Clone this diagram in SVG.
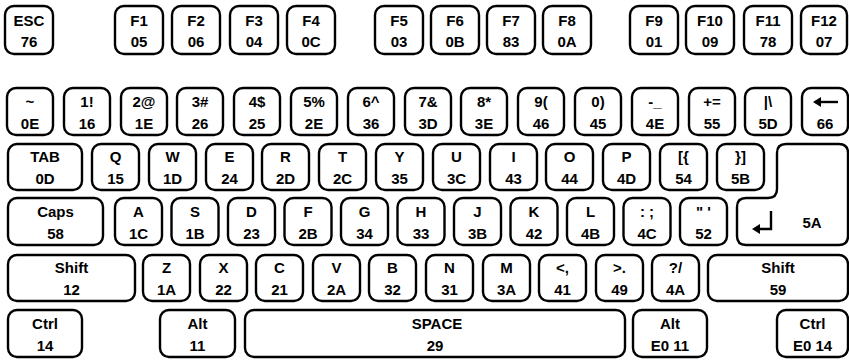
<svg xmlns="http://www.w3.org/2000/svg" width="849" height="361" viewBox="0 0 849 361">
<style>
.k{fill:#fff;stroke:#000;stroke-width:2.4}
text{font-family:"Liberation Sans",Arial,sans-serif;font-size:15px;font-weight:bold;text-anchor:middle;fill:#000}
.sym{fill:none;stroke:#000;stroke-width:2.4}
</style>
<rect width="849" height="361" fill="#fff"/>
<g id="row1">
<g id="k-esc"><rect class="k" x="5" y="6" width="48" height="48" rx="9"/><text x="29" y="26">ESC</text><text x="29" y="47">76</text></g>
<g id="k-f1"><rect class="k" x="115" y="6" width="48" height="48" rx="9"/><text x="139" y="26">F1</text><text x="139" y="47">05</text></g>
<g id="k-f2"><rect class="k" x="172" y="6" width="48" height="48" rx="9"/><text x="196" y="26">F2</text><text x="196" y="47">06</text></g>
<g id="k-f3"><rect class="k" x="230" y="6" width="48" height="48" rx="9"/><text x="254" y="26">F3</text><text x="254" y="47">04</text></g>
<g id="k-f4"><rect class="k" x="287" y="6" width="48" height="48" rx="9"/><text x="311" y="26">F4</text><text x="311" y="47">0C</text></g>
<g id="k-f5"><rect class="k" x="375" y="6" width="48" height="48" rx="9"/><text x="399" y="26">F5</text><text x="399" y="47">03</text></g>
<g id="k-f6"><rect class="k" x="431" y="6" width="48" height="48" rx="9"/><text x="455" y="26">F6</text><text x="455" y="47">0B</text></g>
<g id="k-f7"><rect class="k" x="487" y="6" width="48" height="48" rx="9"/><text x="511" y="26">F7</text><text x="511" y="47">83</text></g>
<g id="k-f8"><rect class="k" x="543" y="6" width="48" height="48" rx="9"/><text x="567" y="26">F8</text><text x="567" y="47">0A</text></g>
<g id="k-f9"><rect class="k" x="630" y="6" width="48" height="48" rx="9"/><text x="654" y="26">F9</text><text x="654" y="47">01</text></g>
<g id="k-f10"><rect class="k" x="686" y="6" width="48" height="48" rx="9"/><text x="710" y="26">F10</text><text x="710" y="47">09</text></g>
<g id="k-f11"><rect class="k" x="744" y="6" width="48" height="48" rx="9"/><text x="768" y="26">F11</text><text x="768" y="47">78</text></g>
<g id="k-f12"><rect class="k" x="801" y="6" width="46" height="48" rx="9"/><text x="824" y="26">F12</text><text x="824" y="47">07</text></g>
</g>
<g id="row2">
<g id="k-tilde"><rect class="k" x="7" y="88" width="46" height="47" rx="9"/><text x="30" y="107">~</text><text x="30" y="129">0E</text></g>
<g id="k-1"><rect class="k" x="64" y="88" width="46" height="47" rx="9"/><text x="87" y="107">1!</text><text x="87" y="129">16</text></g>
<g id="k-2"><rect class="k" x="121" y="88" width="46" height="47" rx="9"/><text x="144" y="107">2@</text><text x="144" y="129">1E</text></g>
<g id="k-3"><rect class="k" x="177" y="88" width="46" height="47" rx="9"/><text x="200" y="107">3#</text><text x="200" y="129">26</text></g>
<g id="k-4"><rect class="k" x="234" y="88" width="46" height="47" rx="9"/><text x="257" y="107">4$</text><text x="257" y="129">25</text></g>
<g id="k-5"><rect class="k" x="291" y="88" width="46" height="47" rx="9"/><text x="314" y="107">5%</text><text x="314" y="129">2E</text></g>
<g id="k-6"><rect class="k" x="348" y="88" width="46" height="47" rx="9"/><text x="371" y="107">6^</text><text x="371" y="129">36</text></g>
<g id="k-7"><rect class="k" x="405" y="88" width="46" height="47" rx="9"/><text x="428" y="107">7&amp;</text><text x="428" y="129">3D</text></g>
<g id="k-8"><rect class="k" x="461" y="88" width="46" height="47" rx="9"/><text x="484" y="107">8*</text><text x="484" y="129">3E</text></g>
<g id="k-9"><rect class="k" x="518" y="88" width="46" height="47" rx="9"/><text x="541" y="107">9(</text><text x="541" y="129">46</text></g>
<g id="k-0"><rect class="k" x="575" y="88" width="46" height="47" rx="9"/><text x="598" y="107">0)</text><text x="598" y="129">45</text></g>
<g id="k-minus"><rect class="k" x="632" y="88" width="46" height="47" rx="9"/><text x="655" y="107">-_</text><text x="655" y="129">4E</text></g>
<g id="k-equal"><rect class="k" x="689" y="88" width="46" height="47" rx="9"/><text x="712" y="107">+=</text><text x="712" y="129">55</text></g>
<g id="k-bslash"><rect class="k" x="745" y="88" width="46" height="47" rx="9"/><text x="768" y="107">|\</text><text x="768" y="129">5D</text></g>
<g id="k-bksp"><rect class="k" x="802" y="88" width="46" height="47" rx="9"/><path class="sym" d="M815,102 H838"/><path d="M813,102 L821,97 L821,107 Z"/><text x="825" y="129">66</text></g>
</g>
<g id="row3">
<g id="k-tab"><rect class="k" x="8" y="144" width="74" height="46" rx="9"/><text x="45" y="162">TAB</text><text x="45" y="184">0D</text></g>
<g id="k-q"><rect class="k" x="92" y="144" width="47" height="46" rx="9"/><text x="115.5" y="162">Q</text><text x="115.5" y="184">15</text></g>
<g id="k-w"><rect class="k" x="149" y="144" width="47" height="46" rx="9"/><text x="172.5" y="162">W</text><text x="172.5" y="184">1D</text></g>
<g id="k-e"><rect class="k" x="206" y="144" width="47" height="46" rx="9"/><text x="229.5" y="162">E</text><text x="229.5" y="184">24</text></g>
<g id="k-r"><rect class="k" x="262" y="144" width="47" height="46" rx="9"/><text x="285.5" y="162">R</text><text x="285.5" y="184">2D</text></g>
<g id="k-t"><rect class="k" x="319" y="144" width="47" height="46" rx="9"/><text x="342.5" y="162">T</text><text x="342.5" y="184">2C</text></g>
<g id="k-y"><rect class="k" x="376" y="144" width="47" height="46" rx="9"/><text x="399.5" y="162">Y</text><text x="399.5" y="184">35</text></g>
<g id="k-u"><rect class="k" x="433" y="144" width="47" height="46" rx="9"/><text x="456.5" y="162">U</text><text x="456.5" y="184">3C</text></g>
<g id="k-i"><rect class="k" x="490" y="144" width="47" height="46" rx="9"/><text x="513.5" y="162">I</text><text x="513.5" y="184">43</text></g>
<g id="k-o"><rect class="k" x="546" y="144" width="47" height="46" rx="9"/><text x="569.5" y="162">O</text><text x="569.5" y="184">44</text></g>
<g id="k-p"><rect class="k" x="603" y="144" width="47" height="46" rx="9"/><text x="626.5" y="162">P</text><text x="626.5" y="184">4D</text></g>
<g id="k-lbr"><rect class="k" x="660" y="144" width="47" height="46" rx="9"/><text x="683.5" y="162">[{</text><text x="683.5" y="184">54</text></g>
<g id="k-rbr"><rect class="k" x="717" y="144" width="47" height="46" rx="9"/><text x="740.5" y="162">}]</text><text x="740.5" y="184">5B</text></g>
</g>
<g id="k-enter">
<path class="k" d="M786,144 H839 Q848,144 848,153 V236 Q848,245 839,245 H746 Q737,245 737,236 V207 Q737,198 746,198 H768 Q777,198 777,189 V153 Q777,144 786,144 Z"/>
<path class="sym" d="M771,211 V229 H756"/><path d="M752,229 L760,224 L760,234 Z"/>
<text x="812" y="228">5A</text>
</g>
<g id="row4">
<g id="k-caps"><rect class="k" x="8" y="198" width="95" height="47" rx="9"/><text x="55.5" y="217">Caps</text><text x="55.5" y="239">58</text></g>
<g id="k-a"><rect class="k" x="115" y="198" width="47" height="47" rx="9"/><text x="138.5" y="217">A</text><text x="138.5" y="239">1C</text></g>
<g id="k-s"><rect class="k" x="171.5" y="198" width="47" height="47" rx="9"/><text x="195" y="217">S</text><text x="195" y="239">1B</text></g>
<g id="k-d"><rect class="k" x="228" y="198" width="47" height="47" rx="9"/><text x="251.5" y="217">D</text><text x="251.5" y="239">23</text></g>
<g id="k-f"><rect class="k" x="284.5" y="198" width="47" height="47" rx="9"/><text x="308" y="217">F</text><text x="308" y="239">2B</text></g>
<g id="k-g"><rect class="k" x="341" y="198" width="47" height="47" rx="9"/><text x="364.5" y="217">G</text><text x="364.5" y="239">34</text></g>
<g id="k-h"><rect class="k" x="397.5" y="198" width="47" height="47" rx="9"/><text x="421" y="217">H</text><text x="421" y="239">33</text></g>
<g id="k-j"><rect class="k" x="454" y="198" width="47" height="47" rx="9"/><text x="477.5" y="217">J</text><text x="477.5" y="239">3B</text></g>
<g id="k-k"><rect class="k" x="510.5" y="198" width="47" height="47" rx="9"/><text x="534" y="217">K</text><text x="534" y="239">42</text></g>
<g id="k-l"><rect class="k" x="567" y="198" width="47" height="47" rx="9"/><text x="590.5" y="217">L</text><text x="590.5" y="239">4B</text></g>
<g id="k-semi"><rect class="k" x="623.5" y="198" width="47" height="47" rx="9"/><text x="647" y="217">: ;</text><text x="647" y="239">4C</text></g>
<g id="k-quote"><rect class="k" x="680" y="198" width="47" height="47" rx="9"/><text x="703.5" y="217">" '</text><text x="703.5" y="239">52</text></g>
</g>
<g id="row5">
<g id="k-lshift"><rect class="k" x="8" y="255" width="127" height="46" rx="9"/><text x="71.5" y="273">Shift</text><text x="71.5" y="295">12</text></g>
<g id="k-z"><rect class="k" x="143" y="255" width="47" height="46" rx="9"/><text x="166.5" y="273">Z</text><text x="166.5" y="295">1A</text></g>
<g id="k-x"><rect class="k" x="200" y="255" width="47" height="46" rx="9"/><text x="223.5" y="273">X</text><text x="223.5" y="295">22</text></g>
<g id="k-c"><rect class="k" x="256" y="255" width="47" height="46" rx="9"/><text x="279.5" y="273">C</text><text x="279.5" y="295">21</text></g>
<g id="k-v"><rect class="k" x="313" y="255" width="47" height="46" rx="9"/><text x="336.5" y="273">V</text><text x="336.5" y="295">2A</text></g>
<g id="k-b"><rect class="k" x="369" y="255" width="47" height="46" rx="9"/><text x="392.5" y="273">B</text><text x="392.5" y="295">32</text></g>
<g id="k-n"><rect class="k" x="426" y="255" width="47" height="46" rx="9"/><text x="449.5" y="273">N</text><text x="449.5" y="295">31</text></g>
<g id="k-m"><rect class="k" x="483" y="255" width="47" height="46" rx="9"/><text x="506.5" y="273">M</text><text x="506.5" y="295">3A</text></g>
<g id="k-comma"><rect class="k" x="539" y="255" width="47" height="46" rx="9"/><text x="562.5" y="273">&lt;,</text><text x="562.5" y="295">41</text></g>
<g id="k-period"><rect class="k" x="596" y="255" width="47" height="46" rx="9"/><text x="619.5" y="273">&gt;.</text><text x="619.5" y="295">49</text></g>
<g id="k-slash"><rect class="k" x="652" y="255" width="47" height="46" rx="9"/><text x="675.5" y="273">?/</text><text x="675.5" y="295">4A</text></g>
<g id="k-rshift"><rect class="k" x="708" y="255" width="140" height="46" rx="9"/><text x="778" y="273">Shift</text><text x="778" y="295">59</text></g>
</g>
<g id="row6">
<g id="k-lctrl"><rect class="k" x="8" y="310" width="74" height="47" rx="9"/><text x="45" y="329">Ctrl</text><text x="45" y="351">14</text></g>
<g id="k-lalt"><rect class="k" x="160" y="310" width="75" height="47" rx="9"/><text x="197.5" y="329">Alt</text><text x="197.5" y="351">11</text></g>
<g id="k-space"><rect class="k" x="245" y="310" width="380" height="47" rx="9"/><text x="437" y="329">SPACE</text><text x="435" y="351">29</text></g>
<g id="k-ralt"><rect class="k" x="633" y="310" width="74" height="47" rx="9"/><text x="670" y="329">Alt</text><text x="670" y="351">E0 11</text></g>
<g id="k-rctrl"><rect class="k" x="777" y="310" width="71" height="47" rx="9"/><text x="812.5" y="329">Ctrl</text><text x="812.5" y="351">E0 14</text></g>
</g>
</svg>
